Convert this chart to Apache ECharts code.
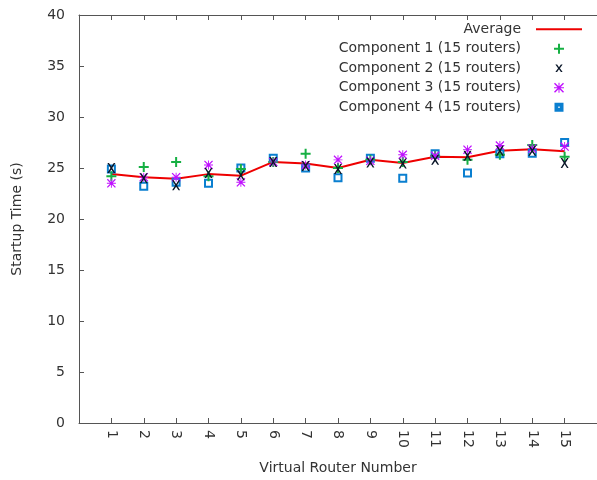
<!DOCTYPE html>
<html>
<head>
<meta charset="utf-8">
<script src="https://cdn.jsdelivr.net/npm/echarts@6/dist/echarts.min.js"></script>
<style>html,body{margin:0;padding:0;background:#fff}#c{width:597px;height:480px}</style>
</head>
<body>
<div id="c"></div>
<script>
var routers = [1,2,3,4,5,6,7,8,9,10,11,12,13,14,15];
var average = [24.4,24.1,23.95,24.4,24.25,25.6,25.45,25.0,25.8,25.5,26.1,26.05,26.7,26.85,26.65];
var comp1 = [24.2,25.1,25.6,24.2,24.9,25.6,26.4,25.0,25.8,25.6,26.2,25.8,26.3,27.25,26.1];
var comp2 = [25.0,24.0,23.3,24.5,24.3,25.6,25.2,24.9,25.55,25.45,25.8,26.2,26.7,26.7,25.5];
var comp3 = [23.5,24.1,24.1,25.3,23.6,25.6,25.3,25.8,25.7,26.3,26.2,26.8,27.2,26.9,27.1];
var comp4 = [24.9,23.2,23.6,23.5,25.0,25.95,25.0,24.05,25.95,24.0,26.4,24.5,26.4,26.45,27.5];
var yTicks = [0,5,10,15,20,25,30,35,40];
var names = ['Average','Component 1 (15 routers)','Component 2 (15 routers)','Component 3 (15 routers)','Component 4 (15 routers)'];

function pairs(v){ return routers.map(function(r,i){ return [r, v[i]]; }); }

var PLUS = 'path://M4,0H6V4H10V6H6V10H4V6H0V4H4Z';
var CROSS = 'path://M0,0L2,0L5,3.6L8,0L10,0L6.1,5L10,10L8,10L5,6.4L2,10L0,10L3.9,5Z';
var STAR = 'path://M4.5,0H5.5V10H4.5Z M0,4.5H10V5.5H0Z M0,1L1,0L10,9L9,10Z M9,0L10,1L1,10L0,9Z';
var LEG_CROSS = 'path://M0,-0.5 M1,1L2.9,1L5,3.8L7.1,1L9,1L6,5L9,9L7.1,9L5,6.2L2.9,9L1,9L4,5Z M10,10.5';
var LEG_SQ = 'path://M-1.5,-1.5 M0,0H7V7H0Z M1.8,1.8V5.2H5.2V1.8Z M8.5,8.5';
var LEG_LINE = 'path://M0,0H46V2H0Z';

var txt = '#333333';
var axisCol = '#555555';
var font = 'DejaVu Sans';

var chart = echarts.init(document.getElementById('c'), null, {renderer:'canvas'});
chart.setOption({
  animation: false,
  backgroundColor: '#ffffff',
  textStyle: {fontFamily: font},
  grid: {left: 79, top: 15, width: 521, height: 408, containLabel: false},
  legend: {
    orient: 'vertical', right: 10, top: 16, align: 'right',
    itemWidth: 46, itemHeight: 10, itemGap: 3,
    symbolKeepAspect: true,
    textStyle: {fontFamily: font, fontSize: 14, color: txt, width: 200, align: 'right', lineHeight: 16.5, padding:[0,10,0,0]},
    data: [
      {name: names[0], icon: LEG_LINE, itemStyle:{color:'#ee0000'}},
      {name: names[1], icon: PLUS, itemStyle:{color:'#16b043'}},
      {name: names[2], icon: LEG_CROSS, itemStyle:{color:'#0a1628'}},
      {name: names[3], icon: STAR, itemStyle:{color:'#c010ff'}},
      {name: names[4], icon: LEG_SQ, itemStyle:{color:'#0a7fd0'}}
    ]
  },
  xAxis: [{
    type: 'value', min: 0, max: 16, interval: 1,
    name: 'Virtual Router Number', nameLocation: 'middle', nameGap: 38,
    nameTextStyle: {fontFamily: font, fontSize: 14, color: txt},
    axisLine: {show: true, lineStyle: {color: axisCol, width: 1}},
    axisTick: {show: true, inside: true, length: 5, lineStyle: {color: axisCol}},
    axisLabel: {rotate: -90, margin: 7, fontFamily: font, fontSize: 14, color: txt,
      formatter: function(v){ return (v>=1 && v<=15) ? String(v) : ''; }},
    splitLine: {show: false}
  },{
    type: 'value', min: 0, max: 16, interval: 1, position: 'top',
    axisLine: {show: true, onZero:false, lineStyle: {color: axisCol, width: 1}},
    axisTick: {show: true, inside: true, length: 5, lineStyle: {color: axisCol}},
    axisLabel: {show: false}, splitLine: {show: false}
  }],
  yAxis: {
    type: 'value', min: yTicks[0], max: yTicks[yTicks.length-1], interval: 5,
    name: 'Startup Time (s)', nameLocation: 'middle', nameGap: 55,
    nameTextStyle: {fontFamily: font, fontSize: 14, color: txt},
    axisLine: {show: true, lineStyle: {color: axisCol, width: 1}},
    axisTick: {show: true, inside: true, length: 5, lineStyle: {color: axisCol}},
    axisLabel: {margin: 14, fontFamily: font, fontSize: 14, color: txt},
    splitLine: {show: false}
  },
  series: [
    {name: names[0], type: 'line', data: pairs(average), symbol: 'none', showSymbol: false,
     lineStyle: {color: '#ee0000', width: 2}, itemStyle: {color: '#ee0000'}, z: 2},
    {name: names[4], type: 'scatter', data: pairs(comp4), symbol: 'rect', symbolSize: 7,
     itemStyle: {color: '#ffffff', borderColor: '#0a7fd0', borderWidth: 2, opacity: 1}, z: 3},
    {name: names[1], type: 'scatter', data: pairs(comp1), symbol: PLUS, symbolSize: 10,
     itemStyle: {color: '#16b043', opacity: 1}, z: 4},
    {name: names[3], type: 'scatter', data: pairs(comp3), symbol: STAR, symbolSize: 9,
     itemStyle: {color: '#c010ff', opacity: 1}, z: 5},
    {name: names[2], type: 'scatter', data: pairs(comp2), symbol: CROSS, symbolSize: [8,10],
     itemStyle: {color: '#0a1628', opacity: 1}, z: 6}
  ]
});
</script>
</body>
</html>
